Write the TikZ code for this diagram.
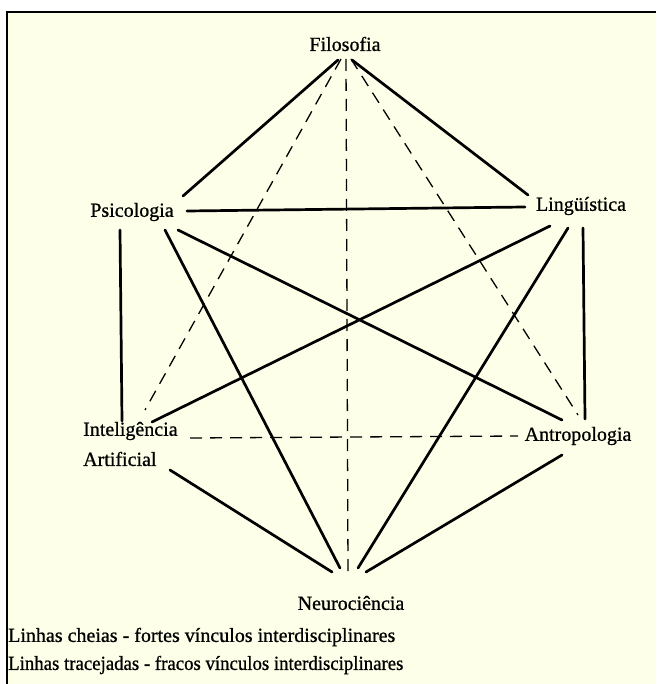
\documentclass[tikz,border=0pt]{standalone}
\usepackage{fontspec}
\setmainfont{Liberation Serif}
\newfontfamily\scanfont[FakeBold=0.8]{Liberation Serif}
\definecolor{paper}{RGB}{253,255,232}
\tikzset{
  lbl/.style={inner sep=0pt, font=\scanfont\fontsize{20}{22}\selectfont},
  legend/.style={inner sep=0pt, anchor=west, font=\scanfont\fontsize{20}{22}\selectfont},
  strong/.style={line width=2.7pt, line cap=round},
  weak/.style={line width=1.3pt, dash pattern=on 12pt off 8pt}
}
\begin{document}
\begin{tikzpicture}[x=1pt,y=-1pt]
\useasboundingbox (0,0) rectangle (656,684);
\fill[white] (0,0) rectangle (656,684);
\fill[paper] (7,12) rectangle (656,684);
\draw[line width=2.2pt] (7,684) -- (7,12) -- (656,12);

% labels
\node[lbl] (fil) at (345,44) {Filosofia};
\node[lbl] (psi) at (132,212) {Psicologia};
\node[lbl] (lin) at (581,206) {Lingüística};
\node[lbl, anchor=west] (int) at (83,431) {Inteligência};
\node[lbl, anchor=west] (art) at (83,459) {Artificial};
\node[lbl] (ant) at (578,436) {Antropologia};
\node[lbl] (neu) at (351,603) {Neurociência};

% connector ends
\coordinate (f1) at (338,60);
\coordinate (f2) at (352,60);
\coordinate (f3) at (341,59);
\coordinate (f4) at (346,59);
\coordinate (f5) at (351,59);
\coordinate (p1) at (183,196);
\coordinate (p2) at (187,211);
\coordinate (p3) at (120,230);
\coordinate (p4) at (178,230);
\coordinate (p5) at (165,230);
\coordinate (l1) at (528,195);
\coordinate (l2) at (525,207);
\coordinate (l3) at (550,226);
\coordinate (l4) at (583,228);
\coordinate (l5) at (568,228);
\coordinate (i1) at (122,421);
\coordinate (i2) at (152,422);
\coordinate (i3) at (145,410);
\coordinate (i4) at (190,438);
\coordinate (a1) at (562,420);
\coordinate (a2) at (585,419);
\coordinate (a3) at (578,415);
\coordinate (a4) at (518,436);
\coordinate (a5) at (562,455);
\coordinate (i5) at (170,470);
\coordinate (n1) at (340,568);
\coordinate (n2) at (358,568);
\coordinate (n3) at (332,572);
\coordinate (n4) at (366,572);
\coordinate (n5) at (348,572);

% strong links
\draw[strong] (f1) -- (p1);
\draw[strong] (f2) -- (l1);
\draw[strong] (p2) -- (l2);
\draw[strong] (p3) -- (i1);
\draw[strong] (p4) -- (a1);
\draw[strong] (p5) -- (n1);
\draw[strong] (l3) -- (i2);
\draw[strong] (l4) -- (a2);
\draw[strong] (l5) -- (n2);
\draw[strong] (i5) -- (n3);
\draw[strong] (a5) -- (n4);

% weak links
\draw[weak] (f3) -- (i3);
\draw[weak] (f4) -- (n5);
\draw[weak] (f5) -- (a3);
\draw[weak] (i4) -- (a4);

% legend
\node[legend] (leg1) at (8,637) {Linhas cheias - fortes vínculos interdisciplinares};
\node[legend] (leg2) at (8,665) {\scalebox{0.94}[1]{Linhas tracejadas - fracos vínculos interdisciplinares}};
\end{tikzpicture}
\end{document}
